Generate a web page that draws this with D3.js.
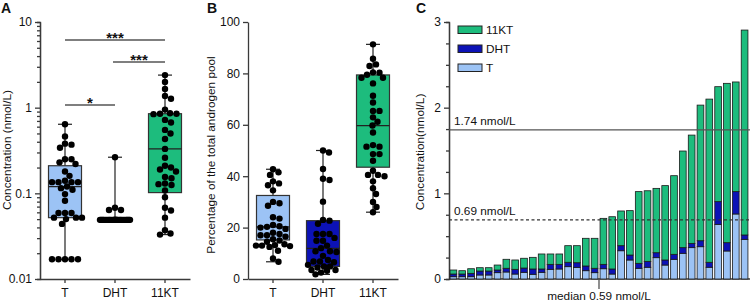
<!DOCTYPE html>
<html>
<head>
<meta charset="utf-8">
<script src="https://cdn.jsdelivr.net/npm/d3@7"></script>
<style>
  body { margin: 0; background: #fff; }
  svg text { font-family: "Liberation Sans", Arial, sans-serif; fill: #111; }
</style>
</head>
<body>
<svg id="chart" width="750" height="302"></svg>
<script>
// ---- data ----
var groups = ["T", "DHT", "11KT"];

// panel A: concentration (nmol/L), one value per sample
var concT = [0.64, 0.46, 0.38, 0.37, 0.34, 0.25, 0.25, 0.23, 0.22, 0.18, 0.16, 0.14,
  0.135, 0.135, 0.135, 0.135, 0.12, 0.115, 0.11, 0.098, 0.082, 0.059, 0.059, 0.059,
  0.052, 0.052, 0.052, 0.05, 0.044, 0.017, 0.017, 0.017, 0.017, 0.017];
var concDHT = [0.264, 0.068, 0.064, 0.064, 0.049, 0.049, 0.049, 0.049, 0.049, 0.049,
  0.049, 0.049, 0.049, 0.049, 0.049, 0.049, 0.049, 0.049, 0.049, 0.049, 0.049, 0.049,
  0.049, 0.049, 0.049, 0.049, 0.049, 0.049, 0.049, 0.049, 0.049, 0.049, 0.049, 0.049];
var conc11KT = [2.4, 2.0, 1.65, 1.37, 1.27, 0.95, 0.86, 0.85, 0.85, 0.84, 0.72, 0.67,
  0.55, 0.5, 0.43, 0.33, 0.26, 0.21, 0.2, 0.19, 0.18, 0.155, 0.15, 0.13, 0.128, 0.125,
  0.108, 0.09, 0.068, 0.063, 0.052, 0.037, 0.034, 0.033];
// box stats [min, q1, median, q3, max]
var boxA = [[0.017, 0.052, 0.12, 0.21, 0.64],
            [0.049, 0.049, 0.049, 0.05, 0.264],
            [0.033, 0.102, 0.33, 0.85, 2.4]];

// panel B: percentage of total androgen pool
var pctT = [42.7, 41.5, 40.5, 38, 37.2, 36.5, 34.5, 30, 29.5, 28.5, 24, 23.5, 21, 20.5,
  20.3, 20, 19.5, 18, 17.5, 17, 17, 16.5, 15.5, 15, 14.5, 13.5, 13.2, 13, 13, 12.8, 12.5,
  11, 8, 6.7];
var pctDHT = [50, 49.2, 42.8, 39, 38.5, 30.1, 23, 22.7, 21.5, 17.5, 17.5, 17.5, 16, 14.9,
  14.9, 13, 12, 10.8, 10.8, 10.5, 9, 7.4, 6.8, 6.8, 6.5, 5.5, 4.9, 4.9, 4.5, 3.5, 3.5, 3.2,
  2.5, 1.8];
var pct11KT = [91.3, 85.7, 83.5, 82.9, 80.4, 80.3, 79.5, 78.3, 78.3, 76.1, 71.3, 68.7,
  65.4, 65.4, 62.9, 61.2, 59.7, 57, 52.1, 51.5, 51.5, 48.6, 48.6, 46, 42.1, 40.5, 40.5,
  40, 38, 35.3, 33.1, 30, 28, 26];
var boxB = [[6.7, 15.2, 20.3, 32.5, 42.7],
            [1.8, 4.9, 11.9, 22.7, 50],
            [26, 43.5, 59.7, 79.4, 91.3]];

// panel C: stacked per sample, sorted by total
var barT = [.027, .027, .027, .047, .047, .074, .082, .058, .078, .055, .078, .113, .117,
  .144, .136, .097, .074, .12, .058, .33, .222, .125, .137, .249, .163, .23, .3, .366,
  .377, .137, .638, .327, .759, .463];
var barDHT = [.031, .031, .039, .046, .046, .031, .043, .055, .05, .062, .039, .058, .054,
  .051, .054, .055, .051, .051, .059, .059, .058, .058, .069, .058, .059, .058, .066,
  .05, .07, .058, .265, .097, .261, .051];
var bar11KT = [.047, .039, .054, .039, .039, .058, .105, .109, .114, .136, .175, .121,
  .121, .194, .199, .323, .35, .537, .61, .405, .518, .837, .824, .751, .868, .918,
  1.128, 1.264, 1.583, 1.905, 1.342, 1.86, 1.28, 2.392];
var refLines = [1.74, 0.69];
var medianTotal = 0.59;

var colors = { "T": "#9cc3f5", "DHT": "#0c12b6", "11KT": "#1dbc7d" };
var axisCol = "#3a3a3a";

var svg = d3.select("#chart");

function styleAxis(g) {
  g.selectAll("path, line").attr("stroke", axisCol).attr("stroke-width", 1.3);
  g.selectAll("text").attr("font-size", 12).attr("fill", "#111")
    .attr("font-family", "'Liberation Sans', Arial, sans-serif");
}

// simple beeswarm: push each dot sideways until it no longer overlaps
function swarm(ys, cx, r, half) {
  var placed = [];
  var offs = [0];
  for (var k = 0.5; k <= half; k += 0.5) { offs.push(k); offs.push(-k); }
  ys.slice().sort(function(a, b) { return a - b; }).forEach(function(y) {
    var best = 0, bestD = -1;
    for (var i = 0; i < offs.length; i++) {
      var x = cx + offs[i];
      var md = Infinity;
      placed.forEach(function(p) {
        var d = Math.hypot(p[0] - x, p[1] - y);
        if (d < md) md = d;
      });
      if (md >= 2 * r - 0.2) { best = x; bestD = md; break; }
      if (md > bestD) { bestD = md; best = x; }
    }
    placed.push([best, y]);
  });
  return placed;
}

function boxPanel(x, y, values, stats) {
  var bw = 33;
  groups.forEach(function(g, gi) {
    var cx = x(g) + x.bandwidth() / 2;
    var s = stats[gi];
    var grp = svg.append("g");
    grp.append("line")
      .attr("x1", cx).attr("x2", cx)
      .attr("y1", y(s[0])).attr("y2", y(s[4]))
      .attr("stroke", "#222").attr("stroke-width", 1.2);
    [s[0], s[4]].forEach(function(v) {
      grp.append("line")
        .attr("x1", cx - 7).attr("x2", cx + 7)
        .attr("y1", y(v)).attr("y2", y(v))
        .attr("stroke", "#222").attr("stroke-width", 1.2);
    });
    grp.append("rect")
      .attr("x", cx - bw / 2).attr("width", bw)
      .attr("y", y(s[3])).attr("height", Math.max(0.5, y(s[1]) - y(s[3])))
      .attr("fill", colors[g]).attr("stroke", "#333").attr("stroke-width", 1.2);
    grp.append("line")
      .attr("x1", cx - bw / 2).attr("x2", cx + bw / 2)
      .attr("y1", y(s[2])).attr("y2", y(s[2]))
      .attr("stroke", "#222").attr("stroke-width", 1.2);
    var pts = swarm(values[gi].map(function(v) { return y(v); }), cx, 3.2, g === "DHT" ? 15 : 17);
    grp.selectAll("circle").data(pts).join("circle")
      .attr("cx", function(d) { return d[0]; })
      .attr("cy", function(d) { return d[1]; })
      .attr("r", 3.2)
      .attr("fill", "#000");
  });
}

function panelLetter(t, x, y) {
  svg.append("text").attr("x", x).attr("y", y).text(t)
    .attr("font-size", 14).attr("font-weight", "bold");
}

function yLabel(t, x, y) {
  svg.append("text")
    .attr("transform", "translate(" + x + "," + y + ") rotate(-90)")
    .attr("text-anchor", "middle")
    .attr("font-size", 11.8)
    .text(t);
}

/*** Panel A ***/
var xA = d3.scaleBand().domain(groups).range([40, 190]);
var yA = d3.scaleLog().domain([0.01, 10]).range([279, 22]);

var minorA = [];
[0.01, 0.1, 1].forEach(function(dec) {
  for (var k = 2; k <= 9; k++) minorA.push(dec * k);
});
svg.append("g").attr("transform", "translate(40,0)")
  .call(d3.axisLeft(yA).tickValues(minorA).tickSize(3).tickFormat(""))
  .call(styleAxis);
svg.append("g").attr("transform", "translate(40,0)")
  .call(d3.axisLeft(yA).tickValues([0.01, 0.1, 1, 10]).tickSize(5).tickSizeOuter(0)
    .tickFormat(function(d) { return String(d); }))
  .call(styleAxis);
svg.append("g").attr("transform", "translate(0,279)")
  .call(d3.axisBottom(xA).tickSize(4).tickSizeOuter(0).tickPadding(5))
  .call(styleAxis);

boxPanel(xA, yA, [concT, concDHT, conc11KT], boxA);

// significance bars
var sig = [
  { a: "T", b: "11KT", y: 40, label: "***" },
  { a: "DHT", b: "11KT", y: 62, label: "***", shift: -2 },
  { a: "T", b: "DHT", y: 105, label: "*" }
];
sig.forEach(function(s) {
  var x1 = xA(s.a) + xA.bandwidth() / 2 + (s.shift || 0);
  var x2 = xA(s.b) + xA.bandwidth() / 2;
  svg.append("line").attr("x1", x1).attr("x2", x2).attr("y1", s.y).attr("y2", s.y)
    .attr("stroke", "#555").attr("stroke-width", 1.3);
  svg.append("text").attr("x", (x1 + x2) / 2).attr("y", s.y + 2.5)
    .attr("text-anchor", "middle").attr("font-size", 15).attr("font-weight", "bold")
    .text(s.label);
});

yLabel("Concentration (nmol/L)", 11, 150);
panelLetter("A", 1, 13);

/*** Panel B ***/
var xB = d3.scaleBand().domain(groups).range([248, 398]);
var yB = d3.scaleLinear().domain([0, 100]).range([279, 22]);

svg.append("g").attr("transform", "translate(248,0)")
  .call(d3.axisLeft(yB).tickValues([0, 20, 40, 60, 80, 100]).tickSize(5).tickSizeOuter(0))
  .call(styleAxis);
svg.append("g").attr("transform", "translate(0,279)")
  .call(d3.axisBottom(xB).tickSize(4).tickSizeOuter(0).tickPadding(5))
  .call(styleAxis);

boxPanel(xB, yB, [pctT, pctDHT, pct11KT], boxB);

yLabel("Percentage of the total androgen pool", 215, 155);
panelLetter("B", 207, 13);

/*** Panel C ***/
var rows = barT.map(function(v, i) {
  return { "T": v, "DHT": barDHT[i], "11KT": bar11KT[i] };
});
var xC = d3.scaleBand().domain(d3.range(rows.length)).range([449, 749])
  .paddingInner(0.24).paddingOuter(0.12);
var yC = d3.scaleLinear().domain([0, 3]).range([279, 22]);

svg.append("g").attr("transform", "translate(449,0)")
  .call(d3.axisLeft(yC).tickValues(d3.range(0.25, 3, 0.25).filter(function(d) { return d % 1 !== 0; }))
    .tickSize(3).tickFormat(""))
  .call(styleAxis);
svg.append("g").attr("transform", "translate(449,0)")
  .call(d3.axisLeft(yC).tickValues([0, 1, 2, 3]).tickSize(5).tickSizeOuter(0)
    .tickFormat(d3.format("d")))
  .call(styleAxis);
svg.append("line").attr("x1", 449).attr("x2", 750).attr("y1", 279).attr("y2", 279)
  .attr("stroke", axisCol).attr("stroke-width", 1.3);

var stack = d3.stack().keys(groups)(rows);
svg.append("g").selectAll("g").data(stack).join("g")
  .attr("fill", function(d) { return colors[d.key]; })
  .selectAll("rect").data(function(d) { return d; }).join("rect")
  .attr("x", function(d, i) { return xC(i); })
  .attr("width", xC.bandwidth())
  .attr("y", function(d) { return yC(d[1]); })
  .attr("height", function(d) { return yC(d[0]) - yC(d[1]); })
  .attr("stroke", "#1a1a1a").attr("stroke-width", 0.8);

// reference lines
svg.append("line").attr("x1", 449).attr("x2", 750)
  .attr("y1", yC(refLines[0])).attr("y2", yC(refLines[0]))
  .attr("stroke", "#555").attr("stroke-width", 1.2);
svg.append("line").attr("x1", 449).attr("x2", 750)
  .attr("y1", yC(refLines[1])).attr("y2", yC(refLines[1]))
  .attr("stroke", "#333").attr("stroke-width", 1.2).attr("stroke-dasharray", "3,2.5");
refLines.forEach(function(v) {
  svg.append("text").attr("x", 454).attr("y", yC(v) - 5)
    .attr("font-size", 11.8).text(d3.format(".2f")(v) + " nmol/L");
});

// median marker
var mx = (xC(16) + xC(17)) / 2 + xC.bandwidth() / 2;
svg.append("line").attr("x1", mx).attr("x2", mx).attr("y1", 279).attr("y2", 289)
  .attr("stroke", "#444").attr("stroke-width", 1.2);
svg.append("text").attr("x", mx).attr("y", 300).attr("text-anchor", "middle")
  .attr("font-size", 11.8).text("median " + medianTotal + " nmol/L");

// legend
var legend = svg.append("g").attr("transform", "translate(458,26)");
groups.slice().reverse().forEach(function(g, i) {
  legend.append("rect").attr("x", 0).attr("y", i * 19).attr("width", 24).attr("height", 7.5)
    .attr("fill", colors[g]).attr("stroke", "#222").attr("stroke-width", 1);
  legend.append("text").attr("x", 28).attr("y", i * 19 + 8).attr("font-size", 11.8).text(g);
});

yLabel("Concentration(nmol/L)", 424, 152);
panelLetter("C", 416, 13);
</script>
</body>
</html>
